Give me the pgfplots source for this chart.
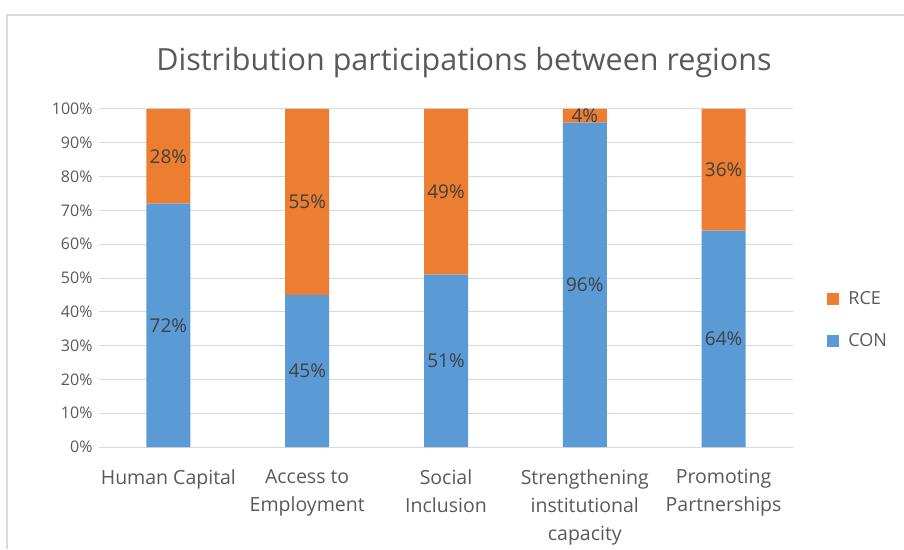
\documentclass[border=0pt]{standalone}
\usepackage{pgfplots}
\pgfplotsset{compat=1.18}
\usepackage{fontspec}
\setmainfont{Open Sans}
\definecolor{con}{HTML}{5B9BD5}
\definecolor{rce}{HTML}{ED7D31}
\definecolor{txt}{HTML}{595959}
\definecolor{lbl}{HTML}{404040}
\definecolor{gridc}{HTML}{D9D9D9}

\begin{document}
\begin{tikzpicture}[x=1pt,y=1pt]
\useasboundingbox (0,0) rectangle (904,549);
\draw[gridc, line width=1.5pt] (7,0) -- (7,534) -- (904,534);
\node[text=txt, font=\fontsize{30.5}{36}\selectfont] at (464,486) {Distribution participations between regions};

% stacked bars
\begin{axis}[
  at={(99pt,102pt)}, anchor=south west,
  width=694pt, height=338pt, scale only axis,
  ybar stacked, bar width=44pt,
  xmin=-0.5, xmax=4.5, ymin=0, ymax=100,
  axis line style={draw=none}, tick style={draw=none},
  ymajorgrids, major grid style={gridc, line width=1pt},
  ytick={0,10,...,100},
  yticklabel={\pgfmathprintnumber{\tick}\%},
  /pgf/number format/assume math mode=true,
  xtick={0,1,2,3,4},
  xticklabels={{Human Capital},{Access to\\Employment},{Social\\Inclusion},{Strengthening\\institutional\\capacity},{Promoting\\Partnerships}},
  xticklabel style={align=center, yshift=-19pt, font=\fontsize{19.5}{28}\selectfont},
  yticklabel style={font=\fontsize{16}{20}\selectfont, xshift=-3pt},
  ticklabel style={text=txt},
  reverse legend,
  legend cell align=left,
  legend style={at={(1.045,0.376)}, anchor=west, draw=none, fill=none,
    font=\fontsize{18}{22}\selectfont, text=txt, row sep=24pt},
  legend image code/.code={\path[#1] (0pt,-6pt) rectangle (12pt,6pt); \path (19pt,0pt);},
]
\addplot[fill=con, draw=none] coordinates {(0,72) (1,45) (2,51) (3,96) (4,64)};
\addplot[fill=rce, draw=none] coordinates {(0,28) (1,55) (2,49) (3,4) (4,36)};
\legend{CON,RCE}
\end{axis}

% data labels, centred in each segment
\begin{axis}[
  at={(99pt,102pt)}, anchor=south west,
  width=694pt, height=338pt, scale only axis,
  xmin=-0.5, xmax=4.5, ymin=0, ymax=100,
  axis lines=none,
  nodes near coords={\pgfplotspointmeta\%},
  point meta=explicit symbolic,
  nodes near coords align=center,
  every node near coord/.append style={text=lbl, font=\fontsize{19}{22}\selectfont},
]
\addplot[draw=none, mark=none] coordinates {(0,36)[72] (1,22.5)[45] (2,25.5)[51] (3,48)[96] (4,32)[64]};
\addplot[draw=none, mark=none] coordinates {(0,86)[28] (1,72.5)[55] (2,75.5)[49] (3,98)[4] (4,82)[36]};
\end{axis}
\end{tikzpicture}
\end{document}
